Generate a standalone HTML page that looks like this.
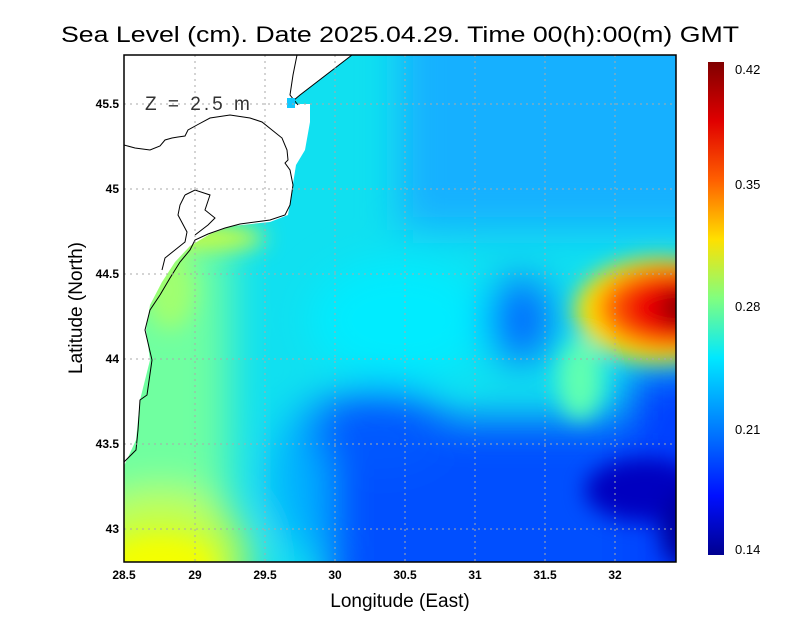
<!DOCTYPE html>
<html><head><meta charset="utf-8"><style>
html,body{margin:0;padding:0;background:#fff;}
svg{display:block;font-family:"Liberation Sans",sans-serif;}
</style></head><body>
<svg width="800" height="618" viewBox="0 0 800 618" xmlns="http://www.w3.org/2000/svg">
<defs>
<clipPath id="cp"><rect x="124" y="55" width="552" height="507"/></clipPath>
<filter id="b1" x="-50%" y="-50%" width="200%" height="200%"><feGaussianBlur stdDeviation="20"/></filter>
<filter id="b2" x="-50%" y="-50%" width="200%" height="200%"><feGaussianBlur stdDeviation="11"/></filter>
<linearGradient id="cb" x1="0" y1="0" x2="0" y2="1">
<stop offset="0" stop-color="#800000"/>
<stop offset="0.12" stop-color="#e00000"/>
<stop offset="0.24" stop-color="#ff6000"/>
<stop offset="0.36" stop-color="#ffe000"/>
<stop offset="0.48" stop-color="#80ff80"/>
<stop offset="0.6" stop-color="#00e8ff"/>
<stop offset="0.76" stop-color="#0070ff"/>
<stop offset="0.88" stop-color="#0010ff"/>
<stop offset="1" stop-color="#000090"/>
</linearGradient>
</defs>
<g clip-path="url(#cp)">
<rect x="60" y="0" width="700" height="640" fill="#10e0f0"/>
<g filter="url(#b1)">
<rect x="400" y="0" width="360" height="230" fill="#18b0ff"/>
<ellipse cx="400" cy="320" rx="90" ry="60" fill="#00ecff"/>
<rect x="60" y="240" width="170" height="400" fill="#70ffa0"/>
<ellipse cx="330" cy="480" rx="60" ry="80" fill="#00b0ff"/>
<rect x="330" y="420" width="430" height="220" fill="#0050ff"/>
<ellipse cx="380" cy="430" rx="70" ry="40" fill="#0058ff"/>
<ellipse cx="520" cy="320" rx="32" ry="42" fill="#0068ff"/>
<rect x="630" y="370" width="130" height="270" fill="#0040ff"/>
<ellipse cx="160" cy="560" rx="90" ry="70" fill="#c8ff40"/>
</g>
<g filter="url(#b2)">
<ellipse cx="160" cy="565" rx="55" ry="30" fill="#f4ff00"/>
<ellipse cx="210" cy="238" rx="55" ry="12" fill="#d8ff30"/>
<ellipse cx="170" cy="290" rx="25" ry="40" fill="#a0ff70"/>
<ellipse cx="645" cy="490" rx="60" ry="32" fill="#0000c0"/>
<ellipse cx="690" cy="530" rx="30" ry="40" fill="#0000a0"/>
<ellipse cx="580" cy="380" rx="22" ry="40" fill="#60ffb0"/>
<ellipse cx="660" cy="310" rx="85" ry="52" fill="#ffe000"/>
<ellipse cx="670" cy="308" rx="72" ry="42" fill="#ff6000"/>
<ellipse cx="680" cy="308" rx="58" ry="32" fill="#f00000"/>
<ellipse cx="690" cy="308" rx="32" ry="20" fill="#900000"/>
</g>
<polygon fill="#fff" points="124,55 352,55 300,95 288,104 310,104 310,122 305,150 296,165 292,190 288,215 270,222 232,226 210,234 190,246 175,262 162,282 150,305 146,330 150,360 140,400 136,440 124,466 124,55"/>
<g fill="none" stroke="#000" stroke-width="1">
<polyline points="124,145 135,148 150,150 160,146 165,140 172,138 178,137 185,136 188,130 197,125 210,118 230,115 250,118 262,122 272,130 282,138 287,150 288,160 285,163 290,170 293,185 290,205 285,215 270,220 255,222 240,224 225,228 208,234 195,240 190,250 180,262 170,278 160,295"/>
<polyline points="288,105 300,95 352,55"/>
<polyline points="297,55 293,75 290,95 298,105"/>
<polyline points="185,195 180,205 178,215 187,232 185,242 165,258 162,270"/>
<polyline points="185,195 195,190 210,195 205,210 215,218 208,225 195,235"/>
<polyline points="160,295 150,310 145,330 152,360 147,395 140,400 138,430 136,450 124,462"/>
</g>
<rect x="287" y="98" width="8" height="10" fill="#10c8ff"/>
</g>
<g stroke="#aaa" stroke-width="1" stroke-dasharray="2,4">
<line x1="195" y1="55" x2="195" y2="562"/><line x1="265" y1="55" x2="265" y2="562"/>
<line x1="335" y1="55" x2="335" y2="562"/><line x1="405" y1="55" x2="405" y2="562"/>
<line x1="475" y1="55" x2="475" y2="562"/><line x1="545" y1="55" x2="545" y2="562"/>
<line x1="615" y1="55" x2="615" y2="562"/>
<line x1="124" y1="104" x2="676" y2="104"/><line x1="124" y1="189" x2="676" y2="189"/>
<line x1="124" y1="274" x2="676" y2="274"/><line x1="124" y1="359" x2="676" y2="359"/>
<line x1="124" y1="444" x2="676" y2="444"/><line x1="124" y1="529" x2="676" y2="529"/>
</g>
<rect x="124" y="55" width="552" height="507" fill="none" stroke="#000" stroke-width="1.5"/>
<text x="145" y="110" font-size="19" fill="#333" letter-spacing="3">Z = 2.5 m</text>
<text x="400" y="42" font-size="22" text-anchor="middle" textLength="678" lengthAdjust="spacingAndGlyphs">Sea Level (cm). Date 2025.04.29. Time 00(h):00(m) GMT</text>
<g font-size="12" font-weight="bold" text-anchor="middle">
<text x="124" y="579">28.5</text><text x="195" y="579">29</text><text x="265" y="579">29.5</text>
<text x="335" y="579">30</text><text x="405" y="579">30.5</text><text x="475" y="579">31</text>
<text x="545" y="579">31.5</text><text x="615" y="579">32</text>
</g>
<g font-size="12" font-weight="bold" text-anchor="end">
<text x="119" y="108">45.5</text><text x="119" y="193">45</text><text x="119" y="278">44.5</text>
<text x="119" y="363">44</text><text x="119" y="448">43.5</text><text x="119" y="533">43</text>
</g>
<text x="400" y="607" font-size="19" text-anchor="middle">Longitude (East)</text>
<text transform="translate(82,308) rotate(-90)" font-size="19" text-anchor="middle">Latitude (North)</text>
<rect x="708" y="62" width="16" height="493" fill="url(#cb)"/>
<g font-size="13" fill="#000">
<text x="735" y="74">0.42</text><text x="735" y="189">0.35</text><text x="735" y="311">0.28</text>
<text x="735" y="434">0.21</text><text x="735" y="554">0.14</text>
</g>
</svg>
</body></html>
